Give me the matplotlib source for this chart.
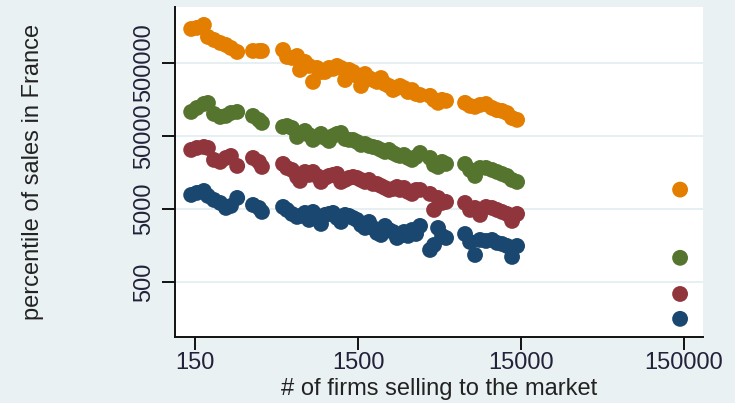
import numpy as np
import matplotlib
matplotlib.use("Agg")
import matplotlib.pyplot as plt
from matplotlib.ticker import FixedLocator, FixedFormatter, NullLocator

plt.rcParams['font.family'] = ['Liberation Sans', 'DejaVu Sans']

# number of firms selling to each market (same markets for every percentile)
n_firms = [142, 154, 170, 180, 196, 214, 232, 249, 272, 340, 370, 386,
           520, 550, 590, 634, 661, 709, 751, 794, 841, 889, 941, 996,
           1054, 1115, 1180, 1249, 1321, 1398, 1479, 1565, 1656, 1752, 1854,
           1962, 2076, 2196, 2324, 2459, 2602, 2716, 2873, 3040, 3217, 3404,
           3602, 4147, 4389, 4644, 4914, 5200, 6800, 7300, 7830, 8405, 9150,
           9960, 10690, 11470, 12310, 13210, 14180, 141800]

# sales percentiles in France
p_blue = [7775, 8285, 8820, 7535, 6640, 6040, 5160, 5495, 7075, 5670, 5160, 4550,
          5325, 4845, 4270, 3885, 4010, 4410, 3535, 4550, 3765, 3115, 4140, 4270,
          4410, 3765, 3320, 4140, 4010, 3765, 3535, 3020, 2745, 3320, 2745,
          2345, 2200, 2925, 2575, 2420, 2000, 2135, 2420, 2135, 2575, 2270,
          2925, 1370, 1605, 2745, 2135, 2000, 2270, 1765, 1170, 1880, 1820,
          1880, 1710, 1655, 1555, 1100, 1555, 156]
p_red = [32150, 34240, 35350, 34240, 23460, 22030, 24980, 26600, 19410, 24980, 22030, 18810,
         20680, 18220, 17100, 13720, 12100, 16060, 14620, 16060, 14160, 11720, 13300, 14160,
         14620, 15080, 11720, 12480, 13300, 13720, 13300, 12480, 11720, 12480, 11000,
         11000, 10330, 9700, 9100, 9400, 10010, 9100, 9700, 8550, 8030, 9100,
         9100, 8030, 4845, 7075, 6040, 6235, 6040, 4845, 5160, 4140, 5325,
         5160, 4845, 4550, 4270, 3425, 4270, 342]
p_green = [106600, 120900, 137200, 141600, 100100, 91000, 94000, 103300, 106600, 94000, 82800, 75400,
           66400, 68500, 64300, 48450, 53250, 58550, 51600, 44100, 48450, 53250, 46950, 42700,
           50000, 53250, 54950, 45500, 44100, 44100, 41400, 37650, 38850, 36470, 35340,
           34250, 32150, 30170, 32150, 29240, 27460, 26610, 27460, 24980, 23450, 25770,
           29240, 24980, 20020, 18800, 22020, 20670, 20670, 17100, 14160, 18220, 18220,
           17100, 16060, 15080, 14160, 12480, 11720, 1070]
p_orange = [1460000, 1510000, 1660000, 1135000, 1033000, 940000, 882000, 802000, 707000, 730000, 730000, 730000,
            753000, 604000, 585000, 623000, 401000, 516000, 455000, 275000, 427000, 376000, 376000, 427000,
            414000, 455000, 427000, 292000, 401000, 376000, 332000, 242000, 353000, 311000, 292000,
            275000, 311000, 258000, 242000, 213000, 227000, 242000, 227000, 200000, 213000, 188000,
            182000, 177000, 156000, 142000, 156000, 151000, 142000, 129000, 125000, 133000, 137000,
            121000, 113000, 110000, 103000, 88000, 83000, 9200]

series = [(p_blue, '#1A476F'), (p_red, '#90353B'),
          (p_green, '#55752F'), (p_orange, '#E37E00')]

x_ticks = [150, 1500, 15000, 150000]
y_ticks = [500, 5000, 50000, 500000]

bg = '#EAF1F3'
fig = plt.figure(figsize=(7.35, 4.03), dpi=100, facecolor=bg)
ax = fig.add_axes([175 / 735, 1 - 337 / 403, 528 / 735, 330 / 403])
ax.set_facecolor('white')

for vals, col in series:
    ax.scatter(n_firms, vals, s=130, color=col, edgecolors='none', zorder=3)

ax.set_xscale('log')
ax.set_yscale('log')
ax.set_xlim(113, 196000)
ax.set_ylim(88, 2.92e6)

ax.xaxis.set_major_locator(FixedLocator(x_ticks))
ax.xaxis.set_major_formatter(FixedFormatter([str(v) for v in x_ticks]))
ax.yaxis.set_major_locator(FixedLocator(y_ticks))
ax.yaxis.set_major_formatter(FixedFormatter([str(v) for v in y_ticks]))
ax.xaxis.set_minor_locator(NullLocator())
ax.yaxis.set_minor_locator(NullLocator())

ax.grid(axis='y', color='#E2ECEF', linewidth=1.2, zorder=0)
ax.set_axisbelow(True)

for side in ['top', 'right']:
    ax.spines[side].set_visible(False)
for side in ['left', 'bottom']:
    ax.spines[side].set_color('#111111')
    ax.spines[side].set_linewidth(1.4)

ax.tick_params(length=9.5, width=1.4, color='#111111', labelsize=17,
               labelcolor='#22223a')
ax.tick_params(axis='x', pad=1.5)
ax.tick_params(axis='y', pad=5)
plt.setp(ax.get_yticklabels(), rotation=90, va='center')

ax.set_xlabel('# of firms selling to the market', fontsize=17,
              color='#222222', labelpad=3)
ax.set_ylabel('percentile of sales in France', fontsize=17,
              color='#222222', va='center')
ax.yaxis.set_label_coords(-0.268, 0.5)

fig.savefig('out.png', dpi=100, facecolor=bg)
